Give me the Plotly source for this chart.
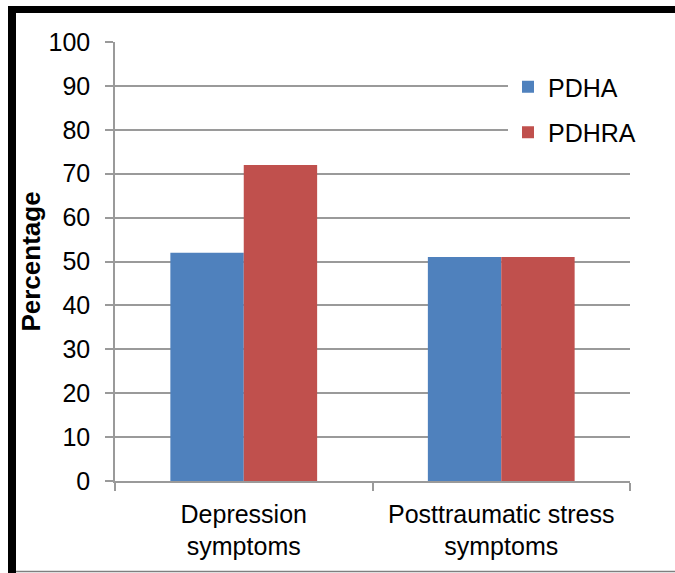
import plotly.graph_objects as go

# Survey results: share of soldiers screening positive, by assessment
categories = ["Depression<br>symptoms", "Posttraumatic stress<br>symptoms"]
pdha_values = [52, 51]
pdhra_values = [72, 51]
y_ticks = [0, 10, 20, 30, 40, 50, 60, 70, 80, 90, 100]

W, H = 675, 573
L, R, T, B = 115, 45, 42, 92
plot_w = W - L - R
plot_h = H - T - B


def px_x(px):
    return (px - L) / plot_w


def px_y(py):
    return (H - B - py) / plot_h


font = dict(family="Liberation Sans, Arial, sans-serif", size=25, color="black")
grid_col = "#9a9a9a"

fig = go.Figure()
fig.add_trace(go.Bar(x=categories, y=pdha_values, name="PDHA",
                     marker=dict(color="#4F81BD", line=dict(width=0)),
                     legendgroup="a"))
fig.add_trace(go.Bar(x=categories, y=pdhra_values, name="PDHRA",
                     marker=dict(color="#C0504D", line=dict(width=0)),
                     legendgroup="b"))

# Frame around the chart: heavy left and top edges, thin bottom rule
shapes = [
    dict(type="rect", xref="paper", yref="paper",
         x0=px_x(8), x1=px_x(16), y0=px_y(573), y1=px_y(6),
         fillcolor="black", line=dict(width=0)),
    dict(type="rect", xref="paper", yref="paper",
         x0=px_x(8), x1=px_x(676), y0=px_y(13), y1=px_y(6),
         fillcolor="black", line=dict(width=0)),
    dict(type="line", xref="paper", yref="paper",
         x0=px_x(16), x1=px_x(676), y0=px_y(571.5), y1=px_y(571.5),
         line=dict(color="#7f7f7f", width=1.5)),
]

fig.update_layout(
    width=W, height=H,
    margin=dict(l=L, r=R, t=T, b=B, pad=0),
    paper_bgcolor="white", plot_bgcolor="white",
    barmode="group", bargap=0.43, bargroupgap=0,
    font=font,
    showlegend=True,
    legend=dict(x=px_x(508), y=px_y(64), xanchor="left", yanchor="top",
                bgcolor="white", font=font, traceorder="grouped",
                tracegroupgap=10, itemwidth=30),
    shapes=shapes,
    xaxis=dict(showline=True, linecolor=grid_col, linewidth=1.5,
               ticks="outside", tickson="boundaries", ticklen=8,
               tickcolor=grid_col, tickwidth=1.5, tickfont=font,
               ticklabelstandoff=10, showgrid=False),
    yaxis=dict(range=[0, 100], tickvals=y_ticks, showline=True,
               linecolor=grid_col, linewidth=1.5, ticks="outside",
               ticklen=8, tickcolor=grid_col, tickwidth=1.5,
               showgrid=True, gridcolor=grid_col, gridwidth=1.5,
               zeroline=False, tickfont=font, ticklabelstandoff=10,
               title=dict(text="<b>Percentage</b>", standoff=0,
                          font=dict(family="Liberation Sans, Arial, sans-serif",
                                    size=26, color="black"))),
)

fig.write_html("out.html")
